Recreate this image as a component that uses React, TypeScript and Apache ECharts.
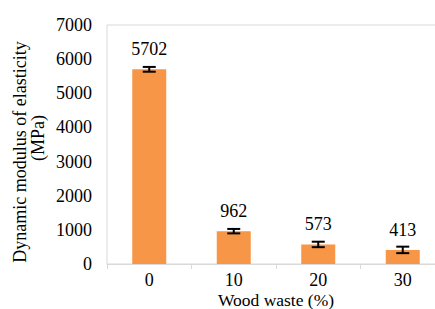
import React, { useEffect, useRef } from "react";
import * as echarts from "echarts";

const categories = ["0", "10", "20", "30"];
const values = [5702, 962, 573, 413];
const errors = [70, 65, 80, 95];
const yTicks = [0, 1000, 2000, 3000, 4000, 5000, 6000, 7000];
const xTitle = "Wood waste (%)";
const yTitleLines = ["Dynamic modulus of elasticity", "(MPa)"];

const FONT = "Liberation Serif";

export default function App() {
  const ref = useRef<HTMLDivElement>(null);
  useEffect(() => {
    if (!ref.current) return;
    const chart = echarts.init(ref.current, undefined, { renderer: "svg" });
    const errData = values.map((v, i) => [i, v - errors[i], v + errors[i]]);
    const txt = { fontFamily: FONT, fontSize: 18, color: "#000" };
    const titleStyle = (text: string, size: number) => ({
      text,
      fill: "#000",
      fontFamily: FONT,
      fontSize: size,
      lineHeight: 14,
      textAlign: "center",
      textVerticalAlign: "middle",
    });
    chart.setOption({
      animation: false,
      textStyle: { fontFamily: FONT },
      grid: {
        left: 107,
        top: 25,
        width: 338,
        height: 239,
        outerBoundsMode: "none",
        containLabel: false,
        show: true,
        borderColor: "#d9d9d9",
        borderWidth: 1,
        backgroundColor: "transparent",
      },
      graphic: [
        { type: "text", x: 276, y: 300, style: titleStyle(xTitle, 17.5) },
        { type: "text", x: 20, y: 152, rotation: Math.PI / 2, style: titleStyle(yTitleLines[0], 18) },
        { type: "text", x: 38, y: 138, rotation: Math.PI / 2, style: titleStyle(yTitleLines[1], 18) },
      ],
      xAxis: {
        type: "category",
        data: categories,
        axisLine: { lineStyle: { color: "#d9d9d9", width: 1 } },
        axisTick: { show: true, length: 5, lineStyle: { color: "#d9d9d9" } },
        axisLabel: { ...txt, margin: 9, lineHeight: 14 },
      },
      yAxis: {
        type: "value",
        min: yTicks[0],
        max: yTicks[yTicks.length - 1],
        interval: 1000,
        axisLine: { show: false },
        axisTick: { show: false },
        splitLine: { show: false },
        axisLabel: { ...txt, margin: 15, formatter: (v: number) => String(v) },
      },
      series: [
        {
          type: "bar",
          data: values,
          barWidth: 34,
          itemStyle: { color: "#F79646" },
          label: {
            show: true,
            position: "top",
            distance: 11,
            ...txt,
            formatter: (p: any) => String(p.value),
          },
        },
        {
          type: "custom",
          data: errData,
          z: 10,
          renderItem: (params: any, api: any) => {
            const x = api.value(0);
            const lo = api.coord([x, api.value(1)]);
            const hi = api.coord([x, api.value(2)]);
            const hw = 6.5;
            const style = { stroke: "#000", lineWidth: 2 };
            return {
              type: "group",
              children: [
                { type: "line", shape: { x1: lo[0], y1: lo[1], x2: hi[0], y2: hi[1] }, style },
                { type: "line", shape: { x1: lo[0] - hw, y1: lo[1], x2: lo[0] + hw, y2: lo[1] }, style },
                { type: "line", shape: { x1: hi[0] - hw, y1: hi[1], x2: hi[0] + hw, y2: hi[1] }, style },
              ],
            };
          },
        },
      ],
    });
    return () => chart.dispose();
  }, []);
  return (
    <div
      ref={ref}
      style={{ position: "fixed", left: 0, top: 0, width: 435, height: 309, background: "#fff" }}
    />
  );
}
